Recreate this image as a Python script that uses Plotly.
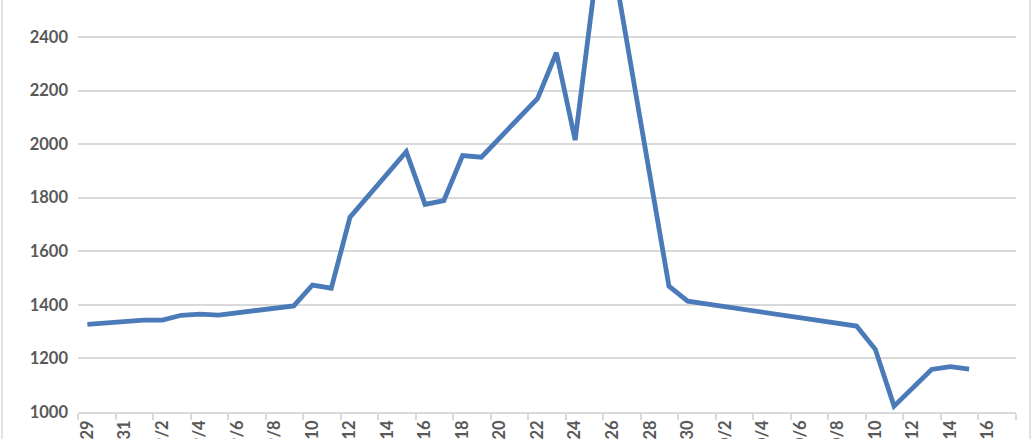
import plotly.graph_objects as go

# daily values (only the days where the line bends)
dates = [
    "2014-08-29", "2014-09-01", "2014-09-02", "2014-09-03", "2014-09-04",
    "2014-09-05", "2014-09-09", "2014-09-10", "2014-09-11", "2014-09-12",
    "2014-09-15", "2014-09-16", "2014-09-17", "2014-09-18", "2014-09-19",
    "2014-09-22", "2014-09-23", "2014-09-24", "2014-09-25", "2014-09-26",
    "2014-09-29", "2014-09-30", "2014-10-09", "2014-10-10", "2014-10-11",
    "2014-10-13", "2014-10-14", "2014-10-15",
]
values = [
    1327, 1343, 1343, 1361, 1365,
    1362, 1396, 1474, 1462, 1727,
    1972, 1775, 1789, 1957, 1951,
    2171, 2341, 2015, 2570, 2690,
    1470, 1414, 1321, 1234, 1022,
    1159, 1169, 1160,
]

y_ticks = [1000, 1200, 1400, 1600, 1800, 2000, 2200, 2400]

DAY_MS = 86400000
label_font = dict(family="Lato", size=16.5, color="#595959", weight="bold")
grey = "#d9d9d9"

fig = go.Figure(
    go.Scatter(
        x=dates,
        y=values,
        mode="lines",
        line=dict(color="#4a7ab7", width=4.8),
        hoverinfo="x+y",
    )
)

fig.update_layout(
    width=1033,
    height=439,
    margin=dict(l=78, r=17, t=0, b=27),
    paper_bgcolor="white",
    plot_bgcolor="white",
    showlegend=False,
    xaxis=dict(
        type="date",
        range=["2014-08-28 12:00", "2014-10-17 12:00"],
        tick0="2014-08-29",
        dtick=2 * DAY_MS,
        tickformat="%-m/%-d",
        tickangle=-90,
        ticks="",
        ticklabelstandoff=0,
        tickfont=label_font,
        automargin=False,
        showgrid=False,
        showline=True,
        linecolor=grey,
        linewidth=1.5,
        minor=dict(
            tick0="2014-08-28 12:00",
            dtick=2 * DAY_MS,
            ticks="outside",
            ticklen=6,
            tickcolor=grey,
            tickwidth=1.5,
            showgrid=False,
        ),
        fixedrange=True,
    ),
    yaxis=dict(
        range=[1000, 2538],
        tickvals=y_ticks,
        tickfont=label_font,
        ticks="",
        ticklabelstandoff=9,
        automargin=False,
        showgrid=True,
        gridcolor=grey,
        gridwidth=1.5,
        zeroline=False,
        showline=False,
        fixedrange=True,
    ),
)

# chart-area border, left and right edges
for xp in (-0.081, 1.0149):
    fig.add_shape(
        type="line", xref="paper", yref="paper",
        x0=xp, x1=xp, y0=-0.1, y1=1.05,
        line=dict(color=grey, width=1.5),
    )

fig.write_html(
    "out.html",
    config={"displayModeBar": False},
    post_script="document.body.style.margin='0';",
)
